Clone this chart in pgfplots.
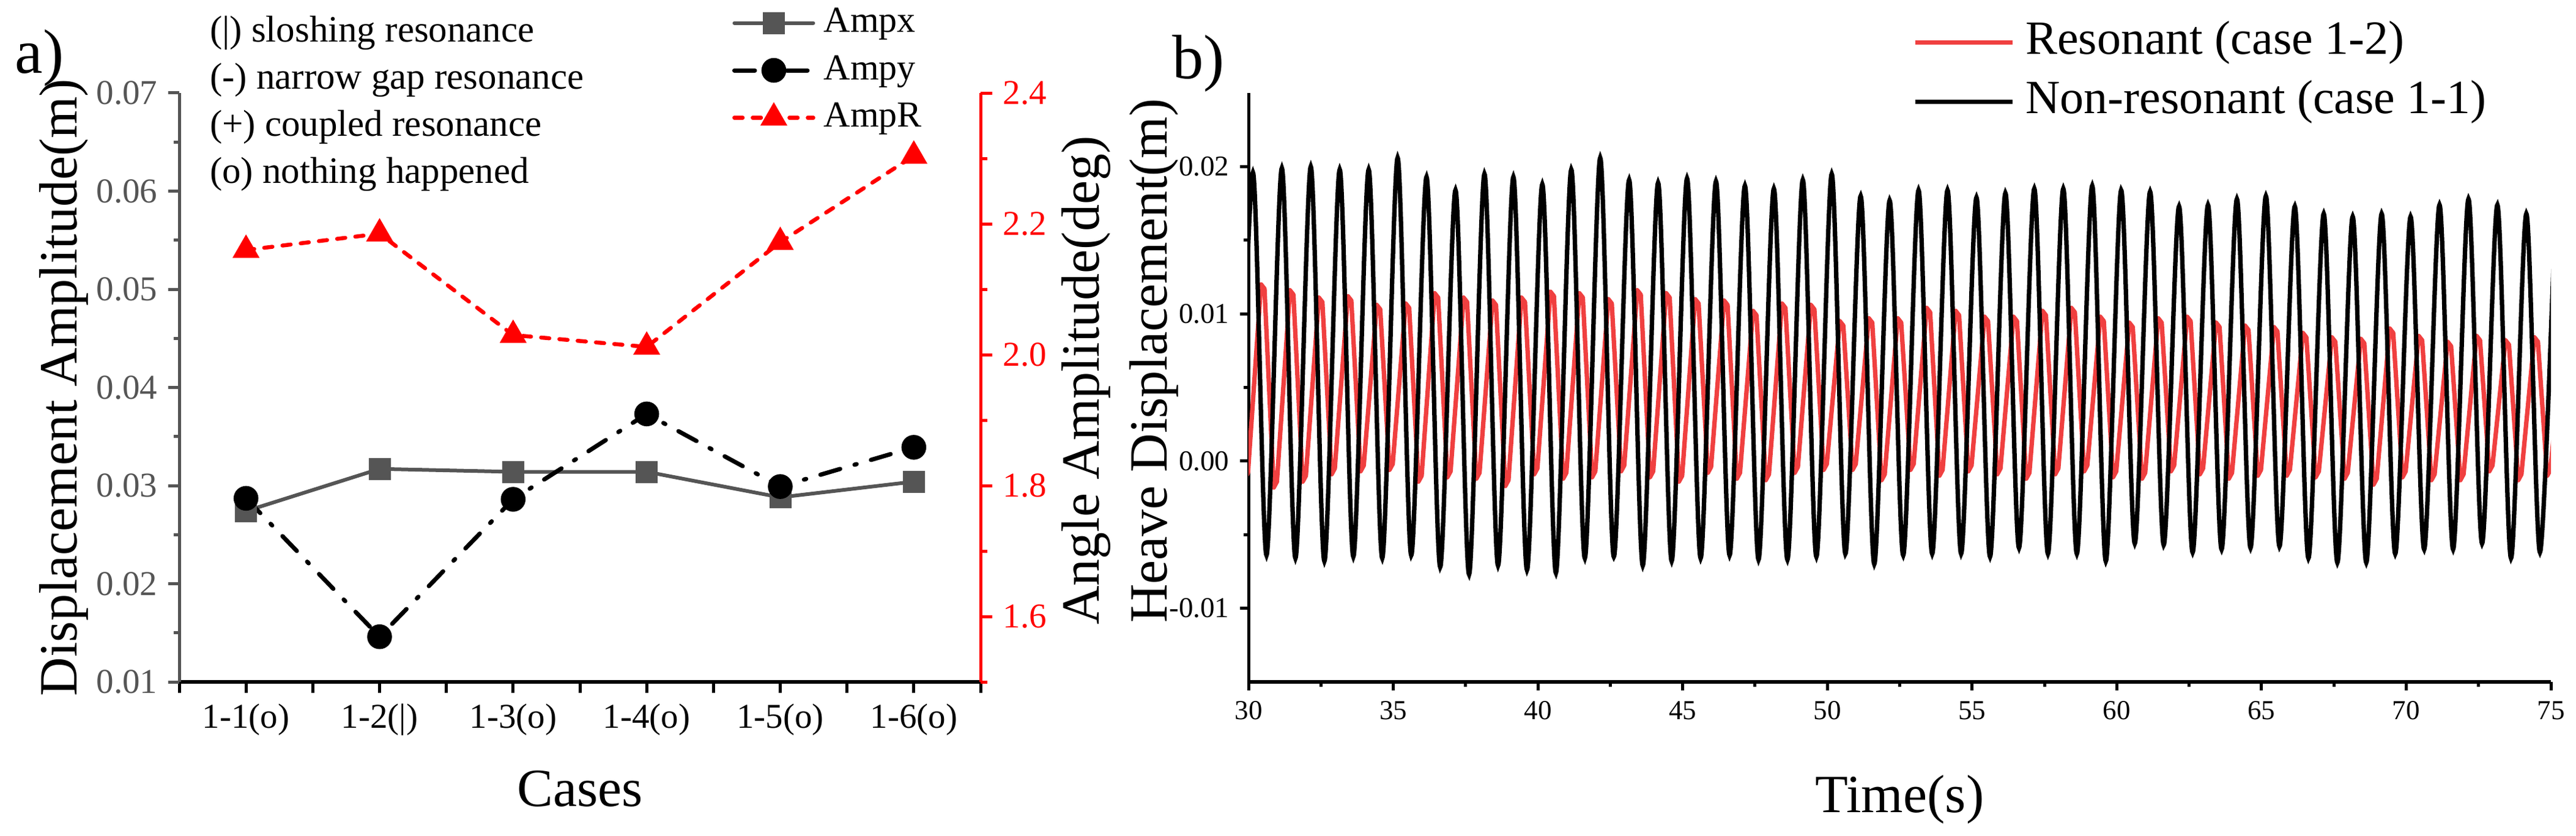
\documentclass[border=0pt]{standalone}
\usepackage{fontspec}
\setmainfont{Liberation Serif}
\usepackage{pgfplots}
\pgfplotsset{compat=1.18}
\definecolor{agray}{RGB}{85,85,85}
\definecolor{bred}{RGB}{240,64,64}
\begin{document}
\begin{tikzpicture}
\path[use as bounding box] (0,0) rectangle (842.2pt,273.2pt);
% ---------------- panel a, left axis
\begin{axis}[
  at={(58.6pt,50.2pt)}, anchor=south west,
  scale only axis, width=262pt, height=192.6pt,
  xmin=0.5, xmax=6.5, ymin=0.01, ymax=0.07,
  axis x line*=bottom, axis y line*=left,
  x axis line style={black,line width=1.1pt},
  y axis line style={agray,line width=1pt},
  tick align=outside,
  major tick length=3.6pt, minor tick length=1.8pt,
  xtick={0.5,1,1.5,2,2.5,3,3.5,4,4.5,5,5.5,6,6.5},
  xticklabels={,1-1(o),,1-2(|),,1-3(o),,1-4(o),,1-5(o),,1-6(o),},
  ytick={0.01,0.02,0.03,0.04,0.05,0.06,0.07},
  minor ytick={0.015,0.025,0.035,0.045,0.055,0.065},
  scaled y ticks=false,
  /pgf/number format/assume math mode=true,
  yticklabel style={agray, font=\fontsize{11.4}{13}\selectfont,
    /pgf/number format/fixed, /pgf/number format/fixed zerofill,
    /pgf/number format/precision=2},
  xticklabel style={font=\fontsize{11.4}{13}\selectfont},
  ytick style={agray,line width=1pt},
  xtick style={black,line width=1pt},
  xlabel={Cases}, ylabel={Displacement Amplitude(m)},
  label style={font=\fontsize{17.6}{20}\selectfont},
  xlabel style={at={(axis description cs:0.5,-0.2118)}, anchor=base},
  ylabel style={at={(axis description cs:-0.1282,0.5)}, anchor=base},
  clip=false,
]
\addplot[agray, line width=1.2pt, line cap=round, mark=square*, mark size=3pt] coordinates {
 (1,0.0274) (2,0.0317) (3,0.0314) (4,0.0314) (5,0.0288) (6,0.0304)};
\addplot[black, line width=1.4pt, line cap=round, dash pattern=on 6.7pt off 4.9pt on 0.7pt off 4.9pt,
  mark=*, mark size=3.35pt, mark options={solid}] coordinates {
 (1,0.0287) (2,0.0146) (3,0.0286) (4,0.0373) (5,0.0299) (6,0.0339)};
\end{axis}
% ---------------- panel a, right axis
\begin{axis}[
  at={(58.6pt,50.2pt)}, anchor=south west,
  scale only axis, width=262pt, height=192.6pt,
  xmin=0.5, xmax=6.5, ymin=1.5, ymax=2.4,
  axis x line=none, axis y line*=right,
  y axis line style={red,line width=1pt},
  tick align=outside,
  major tick length=3.8pt, minor tick length=2.2pt,
  ytick={1.6,1.8,2.0,2.2,2.4},
  minor ytick={1.5,1.7,1.9,2.1,2.3},
  ytick style={red,line width=1pt},
  /pgf/number format/assume math mode=true,
  yticklabel style={red, font=\fontsize{11.4}{13}\selectfont,
    /pgf/number format/fixed, /pgf/number format/fixed zerofill,
    /pgf/number format/precision=1},
  ylabel={Angle Amplitude(deg)},
  label style={font=\fontsize{17.6}{20}\selectfont},
  ylabel style={at={(axis description cs:1.148,0.512)}, anchor=base},
  clip=false,
  legend style={at={(axis description cs:0.6893,1.0384)}, anchor=west,
    draw=none, fill=none, inner sep=0pt, row sep=3.5pt,
    font=\fontsize{12}{14}\selectfont,
    nodes={inner sep=0pt, text height=9pt, text depth=3pt},
    /tikz/every odd column/.append style={column sep=2.8pt}},
  legend cell align=left,
  legend image code/.code={\draw[mark repeat=2,mark phase=2,#1]
    plot coordinates {(0pt,0pt) (12.9pt,0pt) (25.8pt,0pt)};},
]
\addlegendimage{agray, line width=1.2pt, line cap=round, mark=square*, mark size=3pt}
\addlegendentry{Ampx}
\addlegendimage{black, line width=1.4pt, line cap=round, dash pattern=on 6.7pt off 4.9pt on 0.7pt off 4.9pt,
  mark=*, mark size=3.35pt, mark options={solid}}
\addlegendentry{Ampy}
\addplot[red, line width=1.3pt, line cap=round, dash pattern=on 2.7pt off 3.3pt,
  mark=triangle*, mark size=3.8pt, mark options={solid}] coordinates {
 (1,2.160) (2,2.185) (3,2.030) (4,2.012) (5,2.172) (6,2.304)};
\addlegendentry{AmpR}
\end{axis}
% ---------------- panel b
\begin{axis}[
  at={(408.2pt,50.2pt)}, anchor=south west,
  scale only axis, width=425.8pt, height=192.6pt,
  xmin=30, xmax=75, ymin=-0.015, ymax=0.025,
  axis x line*=bottom, axis y line*=left,
  x axis line style={black,line width=1.1pt},
  y axis line style={black,line width=1pt},
  tick align=outside,
  major tick length=2.8pt, minor tick length=1.6pt,
  xtick={30,35,40,45,50,55,60,65,70,75},
  minor xtick={32.5,37.5,42.5,47.5,52.5,57.5,62.5,67.5,72.5},
  ytick={-0.01,0,0.01,0.02},
  minor ytick={-0.005,0.005,0.015},
  tick style={black,line width=1pt},
  scaled y ticks=false,
  /pgf/number format/assume math mode=true,
  yticklabel style={font=\fontsize{9.4}{11}\selectfont,
    /pgf/number format/fixed, /pgf/number format/fixed zerofill,
    /pgf/number format/precision=2},
  xticklabel style={font=\fontsize{9}{11}\selectfont},
  xlabel={Time(s)}, ylabel={Heave Displacement(m)},
  label style={font=\fontsize{17.6}{20}\selectfont},
  xlabel style={at={(axis description cs:0.5,-0.2212)}, anchor=base},
  ylabel style={at={(axis description cs:-0.0629,0.545)}, anchor=base},
  legend style={at={(axis description cs:0.5096,1.0353)}, anchor=west,
    draw=none, fill=none, inner sep=0pt, row sep=3.9pt,
    font=\fontsize{15.6}{18}\selectfont,
    nodes={inner sep=0pt, text height=11.5pt, text depth=4pt},
    /tikz/every odd column/.append style={column sep=3.6pt}},
  legend cell align=left,
  legend image code/.code={\draw[#1] (0pt,0pt) -- (31.8pt,0pt);},
]
\addplot[bred, line width=1.45pt, line join=round] coordinates {
(29.87,-0.0012) (29.98,-0.0008)
(30.43,0.0120) (30.55,0.0117) (30.87,-0.0018) (30.98,-0.0014)
(31.43,0.0116) (31.55,0.0113) (31.87,-0.0014) (31.98,-0.0010)
(32.43,0.0111) (32.55,0.0108) (32.87,-0.0009) (32.98,-0.0005)
(33.43,0.0112) (33.55,0.0109) (33.87,-0.0007) (33.98,-0.0003)
(34.43,0.0106) (34.55,0.0103) (34.87,-0.0006) (34.98,-0.0002)
(35.43,0.0107) (35.55,0.0104) (35.87,-0.0014) (35.98,-0.0010)
(36.43,0.0114) (36.55,0.0111) (36.87,-0.0011) (36.98,-0.0007)
(37.43,0.0111) (37.55,0.0108) (37.87,-0.0012) (37.98,-0.0008)
(38.43,0.0109) (38.55,0.0106) (38.87,-0.0017) (38.98,-0.0013)
(39.43,0.0111) (39.55,0.0108) (39.87,-0.0009) (39.98,-0.0005)
(40.43,0.0115) (40.55,0.0112) (40.87,-0.0012) (40.98,-0.0008)
(41.43,0.0114) (41.55,0.0111) (41.87,-0.0011) (41.98,-0.0007)
(42.43,0.0110) (42.55,0.0107) (42.87,-0.0007) (42.98,-0.0003)
(43.43,0.0116) (43.55,0.0113) (43.87,-0.0011) (43.98,-0.0007)
(44.43,0.0114) (44.55,0.0111) (44.87,-0.0014) (44.98,-0.0010)
(45.43,0.0110) (45.55,0.0107) (45.87,-0.0008) (45.98,-0.0004)
(46.43,0.0109) (46.55,0.0106) (46.87,-0.0012) (46.98,-0.0008)
(47.43,0.0102) (47.55,0.0099) (47.87,-0.0013) (47.98,-0.0009)
(48.43,0.0107) (48.55,0.0104) (48.87,-0.0008) (48.98,-0.0004)
(49.43,0.0106) (49.55,0.0103) (49.87,-0.0006) (49.98,-0.0002)
(50.43,0.0095) (50.55,0.0092) (50.87,-0.0006) (50.98,-0.0002)
(51.43,0.0097) (51.55,0.0094) (51.87,-0.0013) (51.98,-0.0009)
(52.43,0.0097) (52.55,0.0094) (52.87,-0.0006) (52.98,-0.0002)
(53.43,0.0104) (53.55,0.0101) (53.87,-0.0010) (53.98,-0.0006)
(54.43,0.0102) (54.55,0.0099) (54.87,-0.0007) (54.98,-0.0003)
(55.43,0.0098) (55.55,0.0095) (55.87,-0.0009) (55.98,-0.0005)
(56.43,0.0098) (56.55,0.0095) (56.87,-0.0012) (56.98,-0.0008)
(57.43,0.0102) (57.55,0.0099) (57.87,-0.0009) (57.98,-0.0005)
(58.43,0.0104) (58.55,0.0101) (58.87,-0.0007) (58.98,-0.0003)
(59.43,0.0098) (59.55,0.0095) (59.87,-0.0011) (59.98,-0.0007)
(60.43,0.0094) (60.55,0.0091) (60.87,-0.0012) (60.98,-0.0008)
(61.43,0.0097) (61.55,0.0094) (61.87,-0.0007) (61.98,-0.0003)
(62.43,0.0098) (62.55,0.0095) (62.87,-0.0009) (62.98,-0.0005)
(63.43,0.0094) (63.55,0.0091) (63.87,-0.0012) (63.98,-0.0008)
(64.43,0.0092) (64.55,0.0089) (64.87,-0.0010) (64.98,-0.0006)
(65.43,0.0091) (65.55,0.0088) (65.87,-0.0010) (65.98,-0.0006)
(66.43,0.0087) (66.55,0.0084) (66.87,-0.0011) (66.98,-0.0007)
(67.43,0.0084) (67.55,0.0081) (67.87,-0.0012) (67.98,-0.0008)
(68.43,0.0083) (68.55,0.0080) (68.87,-0.0016) (68.98,-0.0012)
(69.43,0.0090) (69.55,0.0087) (69.87,-0.0011) (69.98,-0.0007)
(70.43,0.0085) (70.55,0.0082) (70.87,-0.0013) (70.98,-0.0009)
(71.43,0.0081) (71.55,0.0078) (71.87,-0.0013) (71.98,-0.0009)
(72.43,0.0085) (72.55,0.0082) (72.87,-0.0007) (72.98,-0.0003)
(73.43,0.0082) (73.55,0.0079) (73.87,-0.0013) (73.98,-0.0009)
(74.43,0.0084) (74.55,0.0081) (74.87,-0.0010) (74.98,-0.0006)
(75.43,0.0084)};
\addlegendentry{Resonant (case 1-2)}
\addplot[black, line width=1.45pt, smooth] coordinates {
(29.62,-0.0063)
(30.15,0.0196) (30.62,-0.0064) (31.15,0.0199) (31.62,-0.0066)
(32.15,0.0200) (32.62,-0.0068) (33.15,0.0198) (33.62,-0.0065)
(34.15,0.0198) (34.62,-0.0066) (35.15,0.0206) (35.62,-0.0064)
(36.15,0.0193) (36.62,-0.0072) (37.15,0.0184) (37.62,-0.0077)
(38.15,0.0195) (38.62,-0.0071) (39.15,0.0193) (39.62,-0.0074)
(40.15,0.0188) (40.62,-0.0076) (41.15,0.0198) (41.62,-0.0066)
(42.15,0.0206) (42.62,-0.0065) (43.15,0.0191) (43.62,-0.0071)
(44.15,0.0189) (44.62,-0.0068) (45.15,0.0192) (45.62,-0.0066)
(46.15,0.0190) (46.62,-0.0064) (47.15,0.0187) (47.62,-0.0067)
(48.15,0.0185) (48.62,-0.0067) (49.15,0.0191) (49.62,-0.0065)
(50.15,0.0195) (50.62,-0.0063) (51.15,0.0180) (51.62,-0.0070)
(52.15,0.0177) (52.62,-0.0064) (53.15,0.0184) (53.62,-0.0063)
(54.15,0.0184) (54.62,-0.0063) (55.15,0.0179) (55.62,-0.0065)
(56.15,0.0182) (56.62,-0.0059) (57.15,0.0185) (57.62,-0.0063)
(58.15,0.0185) (58.62,-0.0063) (59.15,0.0187) (59.62,-0.0068)
(60.15,0.0184) (60.62,-0.0056) (61.15,0.0183) (61.62,-0.0057)
(62.15,0.0173) (62.62,-0.0062) (63.15,0.0174) (63.62,-0.0060)
(64.15,0.0178) (64.62,-0.0059) (65.15,0.0180) (65.62,-0.0058)
(66.15,0.0173) (66.62,-0.0066) (67.15,0.0168) (67.62,-0.0069)
(68.15,0.0166) (68.62,-0.0069) (69.15,0.0168) (69.62,-0.0063)
(70.15,0.0166) (70.62,-0.0060) (71.15,0.0174) (71.62,-0.0060)
(72.15,0.0178) (72.62,-0.0056) (73.15,0.0174) (73.62,-0.0066)
(74.15,0.0168) (74.62,-0.0062)
(75.15,0.0170)};
\addlegendentry{Non-resonant (case 1-1)}
\end{axis}
% ---------------- texts
\node[anchor=base west, inner sep=0pt, font=\fontsize{12.2}{14}\selectfont] at (68.4pt,259.4pt) {(|) sloshing resonance};
\node[anchor=base west, inner sep=0pt, font=\fontsize{12.2}{14}\selectfont] at (68.4pt,244.0pt) {(-) narrow gap resonance};
\node[anchor=base west, inner sep=0pt, font=\fontsize{12.2}{14}\selectfont] at (68.4pt,228.6pt) {(+) coupled resonance};
\node[anchor=base west, inner sep=0pt, font=\fontsize{12.2}{14}\selectfont] at (68.4pt,213.2pt) {(o) nothing happened};
\node[anchor=base west, inner sep=0pt, font=\fontsize{20.5}{24}\selectfont] at (4.8pt,249.2pt) {a)};
\node[anchor=base west, inner sep=0pt, font=\fontsize{20.5}{24}\selectfont] at (383pt,247.4pt) {b)};
\end{tikzpicture}
\end{document}
